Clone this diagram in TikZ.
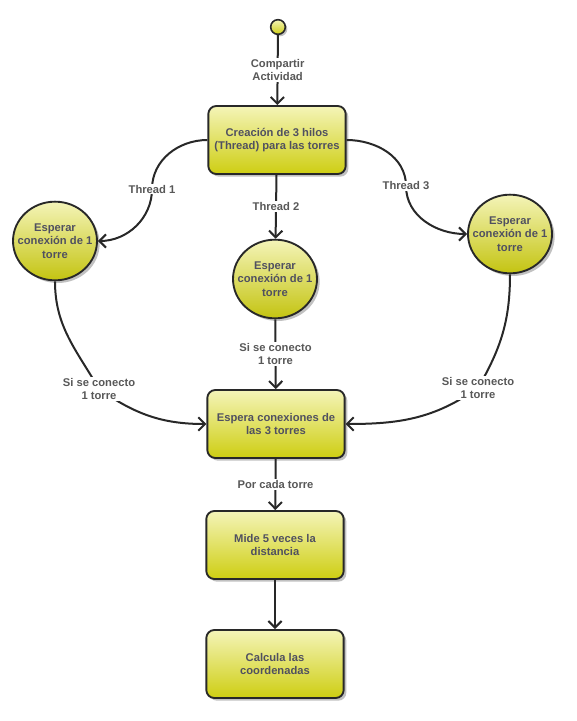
\documentclass[tikz,border=0pt]{standalone}
\usepackage{fontspec}
\setmainfont{Liberation Sans}
\definecolor{act_top}{RGB}{244, 244, 184}
\definecolor{act_bot}{RGB}{206, 206, 18}
\definecolor{act_line}{RGB}{40, 40, 40}
\definecolor{act_text}{RGB}{80, 80, 96}
\definecolor{act_lbl}{RGB}{88, 88, 88}
\usetikzlibrary{arrows.meta, positioning, shapes.geometric, shadows}

\tikzset{
  actbox/.style={rectangle, rounded corners=6pt, draw=act_line, line width=1.4pt,
    top color=act_top, bottom color=act_bot, minimum width=103pt, minimum height=51pt,
    align=center, font=\fontsize{8.4}{10.2}\selectfont\bfseries, text=act_text,
    drop shadow={shadow xshift=2pt, shadow yshift=-2pt, fill=gray!60, opacity=0.8}},
  waitnode/.style={ellipse, draw=act_line, line width=1.4pt, inner xsep=-9pt, inner ysep=3pt,
    top color=act_top, bottom color=act_bot!95!black, minimum width=63pt, minimum height=59pt,
    align=center, font=\fontsize{8.4}{10.2}\selectfont\bfseries, text=act_text,
    drop shadow={shadow xshift=2pt, shadow yshift=-2pt, fill=gray!60, opacity=0.8}},
  startdot/.style={circle, draw=act_line, line width=1.2pt, inner sep=0pt, minimum size=11pt,
    top color=act_top, bottom color=act_bot,
    drop shadow={shadow xshift=1.5pt, shadow yshift=-1.5pt, fill=gray!60, opacity=0.8}},
  lbl/.style={fill=white, inner sep=1pt, align=center,
    font=\fontsize{8.4}{10.2}\selectfont\bfseries, text=act_lbl},
  flow/.style={draw=act_line, line width=1.5pt,
    -{Straight Barb[length=5pt, width=10pt]}}
}

\begin{document}
\begin{tikzpicture}[x=0.75pt, y=-0.75pt]
  \useasboundingbox (0,0) rectangle (577,721);

  % activity nodes
  \node[startdot] (start) at (278,27) {};
  \node[actbox] (crea) at (277,140) {Creación de 3 hilos\\(Thread) para las torres};
  \node[waitnode] (wait1) at (55,241) {Esperar\\conexión de 1\\torre};
  \node[waitnode] (wait2) at (275,279) {Esperar\\conexión de 1\\torre};
  \node[waitnode] (wait3) at (510,234) {Esperar\\conexión de 1\\torre};
  \node[actbox] (espera) at (276,424) {Espera conexiones de\\las 3 torres};
  \node[actbox] (mide) at (275,545) {Mide 5 veces la\\distancia};
  \node[actbox] (calc) at (275,664) {Calcula las\\coordenadas};

  % bends of the curved flows
  \coordinate (v1) at (152,189);
  \coordinate (v3) at (406,186);
  \coordinate (v4) at (99,389);
  \coordinate (v5) at (478,388);

  % flows
  \draw[flow] (start) -- node[lbl] (lcomp) {Compartir\\Actividad} (crea);
  \draw[flow] (crea.west) to[out=180,in=90] (v1) to[out=-90,in=0] (wait1.east);
  \draw[flow] (crea) -- node[lbl] (lth2) {Thread 2} (wait2);
  \draw[flow] (crea.east) to[out=0,in=90] (v3) to[out=-90,in=180] (wait3.west);
  \draw[flow] (wait1.south) to[out=-90,in=120] (v4) to[out=-35,in=180] (espera.west);
  \draw[flow] (wait2) -- node[lbl] (lsi2) {Si se conecto\\1 torre} (espera);
  \draw[flow] (wait3.south) to[out=-90,in=60] (v5) to[out=-145,in=0] (espera.east);
  \draw[flow] (espera) -- node[lbl] (lcada) {Por cada torre} (mide);
  \draw[flow] (mide) -- (calc);

  % labels on the curved flows
  \node[lbl] (lth1) at (v1) {Thread 1};
  \node[lbl] (lth3) at (v3) {Thread 3};
  \node[lbl] (lsi1) at (v4) {Si se conecto\\1 torre};
  \node[lbl] (lsi3) at (v5) {Si se conecto\\1 torre};
\end{tikzpicture}
\end{document}
